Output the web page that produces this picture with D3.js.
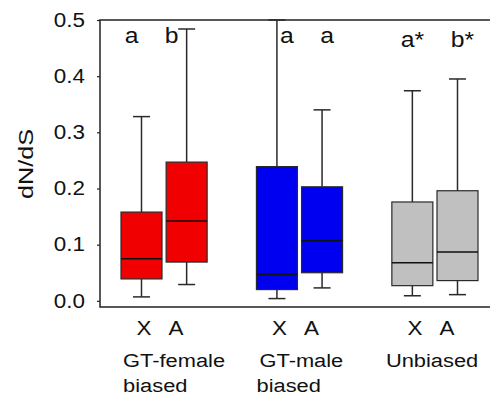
<!DOCTYPE html>
<html>
<head>
<meta charset="utf-8">
<script src="https://cdn.jsdelivr.net/npm/d3@7"></script>
<style>
  body { margin: 0; background: #fff; }
  text { font-family: Arial, "Liberation Sans", sans-serif; fill: #111; }
</style>
</head>
<body>
<div id="chart"></div>
<script>
// data
const groups = ["GT-female", "GT-male", "Unbiased"];
const groupLines = [["GT-female", "biased"], ["GT-male", "biased"], ["Unbiased"]];
const chrom = ["X", "A", "X", "A", "X", "A"];
const boxGroup = [0, 0, 1, 1, 2, 2];
const slot = [0, 1, 3, 4, 6, 7];
const whiskLo = [0.007, 0.029, 0.004, 0.023, 0.009, 0.011];
const q1 = [0.039, 0.069, 0.020, 0.050, 0.027, 0.036];
const median = [0.075, 0.142, 0.047, 0.107, 0.068, 0.087];
const q3 = [0.158, 0.247, 0.239, 0.203, 0.176, 0.196];
const whiskHi = [0.328, 0.484, 0.5, 0.340, 0.374, 0.395];
const letters = ["a", "b", "a", "a", "a*", "b*"];
const groupColors = ["#f00000", "#0000f0", "#c0c0c0"];
const yTicks = [0, 0.1, 0.2, 0.3, 0.4, 0.5];

const W = 490, H = 400;
const sx = 1.15; // text in the source is a bit wide

const svg = d3.select('#chart').append('svg')
  .attr('width', W).attr('height', H);

const x = d3.scaleLinear().domain([0, 7]).range([141.5, 457.5]);
const y = d3.scaleLinear().domain([-0.011, 0.5]).range([307, 20]);
const boxW = 41, capW = 17;

// frame: left axis, top and bottom lines (open to the right)
svg.append('path')
  .attr('d', `M${W + 10},20 H100 V307 H${W + 10}`)
  .attr('fill', 'none').attr('stroke', '#222').attr('stroke-width', 1.5);

// y axis
const yAxis = svg.append('g')
  .attr('transform', 'translate(100,0)')
  .call(d3.axisLeft(y).tickValues(yTicks).tickFormat(d3.format('.1f')).tickSize(3).tickPadding(15));
yAxis.select('.domain').remove();
yAxis.selectAll('.tick line').attr('stroke', '#222').attr('stroke-width', 1.2);
yAxis.selectAll('.tick text')
  .attr('font-size', 19.5)
  .attr('font-family', 'Arial, "Liberation Sans", sans-serif')
  .attr('fill', '#111')
  .attr('x', -15 / sx)
  .attr('transform', `scale(${sx},1)`);

svg.append('text')
  .attr('transform', 'translate(33,164) rotate(-90) scale(1.2,1)')
  .attr('text-anchor', 'middle')
  .attr('font-size', 21)
  .text('dN/dS');

// boxes
const boxes = svg.append('g').selectAll('g').data(d3.range(6)).join('g');

boxes.append('line')
  .attr('x1', i => x(slot[i])).attr('x2', i => x(slot[i]))
  .attr('y1', i => y(whiskHi[i])).attr('y2', i => y(q3[i]))
  .attr('stroke', '#2a2a2a').attr('stroke-width', 1.5);
boxes.append('line')
  .attr('x1', i => x(slot[i])).attr('x2', i => x(slot[i]))
  .attr('y1', i => y(q1[i])).attr('y2', i => y(whiskLo[i]))
  .attr('stroke', '#2a2a2a').attr('stroke-width', 1.5);
boxes.append('line')
  .attr('x1', i => x(slot[i]) - capW / 2).attr('x2', i => x(slot[i]) + capW / 2)
  .attr('y1', i => y(whiskHi[i])).attr('y2', i => y(whiskHi[i]))
  .attr('stroke', '#2a2a2a').attr('stroke-width', 1.5);
boxes.append('line')
  .attr('x1', i => x(slot[i]) - capW / 2).attr('x2', i => x(slot[i]) + capW / 2)
  .attr('y1', i => y(whiskLo[i])).attr('y2', i => y(whiskLo[i]))
  .attr('stroke', '#2a2a2a').attr('stroke-width', 1.5);
boxes.append('rect')
  .attr('x', i => x(slot[i]) - boxW / 2)
  .attr('width', boxW)
  .attr('y', i => y(q3[i]))
  .attr('height', i => y(q1[i]) - y(q3[i]))
  .attr('fill', i => groupColors[boxGroup[i]])
  .attr('stroke', '#2a2a2a').attr('stroke-width', 1.2);
boxes.append('line')
  .attr('x1', i => x(slot[i]) - boxW / 2).attr('x2', i => x(slot[i]) + boxW / 2)
  .attr('y1', i => y(median[i])).attr('y2', i => y(median[i]))
  .attr('stroke', '#111').attr('stroke-width', 1.5);

// significance letters (hand placed in the source)
const letterDx = [-10, -15, 10, 5, 0, 5];
boxes.append('text')
  .attr('transform', i => `translate(${x(slot[i]) + letterDx[i]},${letters[i].length > 1 ? 47 : 43}) scale(${sx},1)`)
  .attr('text-anchor', 'middle')
  .attr('font-size', 21.5)
  .text(i => letters[i]);

// X / A labels
const chromDx = [-20, 12];
boxes.append('text')
  .attr('transform', i => {
    const g = boxGroup[i];
    const c = (x(slot[g * 2]) + x(slot[g * 2 + 1])) / 2;
    return `translate(${c + chromDx[i % 2]},335) scale(${sx},1)`;
  })
  .attr('text-anchor', 'middle')
  .attr('font-size', 19.5)
  .text(i => chrom[i]);

// group labels
const labelDx = [-41, -40, -49];
groups.forEach((g, gi) => {
  const c = (x(slot[gi * 2]) + x(slot[gi * 2 + 1])) / 2;
  groupLines[gi].forEach((line, li) => {
    svg.append('text')
      .attr('transform', `translate(${c + labelDx[gi] - (li ? 3 * (gi === 1) : 0)},${367 + li * 25}) scale(${sx},1)`)
      .attr('font-size', 19)
      .text(line);
  });
});
</script>
</body>
</html>
